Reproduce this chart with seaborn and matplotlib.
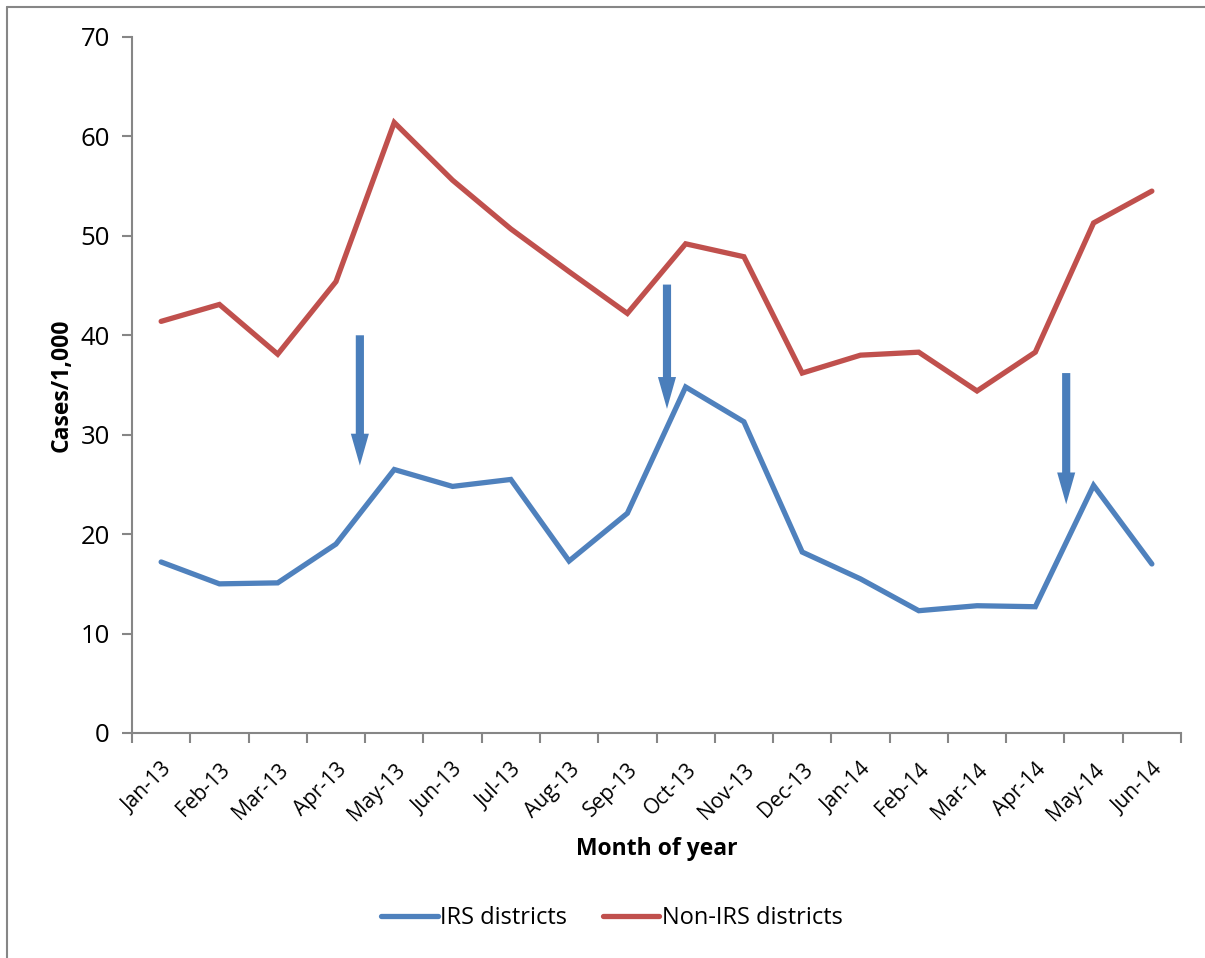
import matplotlib
matplotlib.use("Agg")
import matplotlib.pyplot as plt
import seaborn as sns
import pandas as pd
from matplotlib.lines import Line2D

months = ["Jan-13", "Feb-13", "Mar-13", "Apr-13", "May-13", "Jun-13", "Jul-13", "Aug-13", "Sep-13",
          "Oct-13", "Nov-13", "Dec-13", "Jan-14", "Feb-14", "Mar-14", "Apr-14", "May-14", "Jun-14"]
irs = [17.2, 15.0, 15.1, 19.0, 26.5, 24.8, 25.5, 17.3, 22.1,
       34.8, 31.3, 18.2, 15.5, 12.3, 12.8, 12.7, 24.9, 17.0]
non_irs = [41.4, 43.1, 38.1, 45.4, 61.4, 55.6, 50.7, 46.4, 42.2,
           49.2, 47.9, 36.2, 38.0, 38.3, 34.4, 38.3, 51.3, 54.5]
series_names = ["IRS districts", "Non-IRS districts"]
y_ticks = [0, 10, 20, 30, 40, 50, 60, 70]
# arrows: x position (category units), start value, end value
arrow_x = [3.41, 8.68, 15.53]
arrow_start = [40.0, 45.1, 36.2]
arrow_end = [26.9, 32.6, 23.0]

blue = "#4F81BD"
red = "#C0504D"

sns.set_style("white")
plt.rcParams["font.family"] = ["Open Sans", "DejaVu Sans"]
plt.rcParams["text.color"] = "black"
plt.rcParams["axes.labelcolor"] = "black"
plt.rcParams["xtick.color"] = "black"
plt.rcParams["ytick.color"] = "black"

df = pd.DataFrame({
    "pos": list(range(len(months))) * 2,
    "value": irs + non_irs,
    "series": [series_names[0]] * len(months) + [series_names[1]] * len(months),
})

fig = plt.figure(figsize=(12.05, 9.58), dpi=100)
ax = fig.add_axes([132 / 1205, 1 - 733 / 958, (1181 - 132) / 1205, (733 - 37) / 958])

sns.lineplot(data=df, x="pos", y="value", hue="series", palette=[blue, red],
             linewidth=3.8, ax=ax, legend=False, solid_capstyle="round", solid_joinstyle="miter")

for x, y0, y1 in zip(arrow_x, arrow_start, arrow_end):
    ax.arrow(x, y0, 0, y1 - y0, width=0.14, head_width=0.31, head_length=3.2,
             length_includes_head=True, color="#4A7EBB", zorder=3, linewidth=0)

ax.set_xlim(-0.5, len(months) - 0.5)
ax.set_ylim(0, 70)
ax.set_yticks(y_ticks)
ax.set_yticklabels([str(v) for v in y_ticks], fontsize=18.5)
ax.set_xticks([i for i in range(len(months))])
ax.set_xticklabels(months, rotation=45, ha="right", rotation_mode="anchor", fontsize=15)
ax.tick_params(axis="x", length=0, pad=19)
ax.set_xticks([i - 0.5 for i in range(len(months) + 1)], minor=True)
ax.tick_params(axis="x", which="minor", length=7, width=1.5, color="#868686", direction="out", bottom=True)
ax.tick_params(axis="y", length=7, width=1.5, color="#868686", labelcolor="black", direction="out", left=True, pad=9)
ax.tick_params(axis="x", labelcolor="black")

for s in ["top", "right"]:
    ax.spines[s].set_visible(False)
for s in ["left", "bottom"]:
    ax.spines[s].set_color("#868686")
    ax.spines[s].set_linewidth(1.5)

ax.set_xlabel("Month of year", fontsize=16.5, fontweight="bold")
ax.set_ylabel("Cases/1,000", fontsize=16.5, fontweight="bold")
ax.xaxis.set_label_coords(0.5, -0.150)
ax.yaxis.set_label_coords(-0.056, 0.5)

handles = [Line2D([0], [0], color=blue, lw=3.8, solid_capstyle="round"),
           Line2D([0], [0], color=red, lw=3.8, solid_capstyle="round")]
fig.legend(handles, series_names, loc="center", bbox_to_anchor=(612 / 1205, 1 - 918 / 958),
           ncol=2, frameon=False, fontsize=17, handlelength=2.4, handletextpad=0.1, columnspacing=1.5)

# chart-area border (left and top edges visible)
fig.add_artist(Line2D([7 / 1205, 7 / 1205], [0, 1 - 7 / 958], transform=fig.transFigure, color="#868686", lw=1.5))
fig.add_artist(Line2D([7 / 1205, 1], [1 - 7 / 958, 1 - 7 / 958], transform=fig.transFigure, color="#868686", lw=1.5))

fig.savefig("out.png", dpi=100)
